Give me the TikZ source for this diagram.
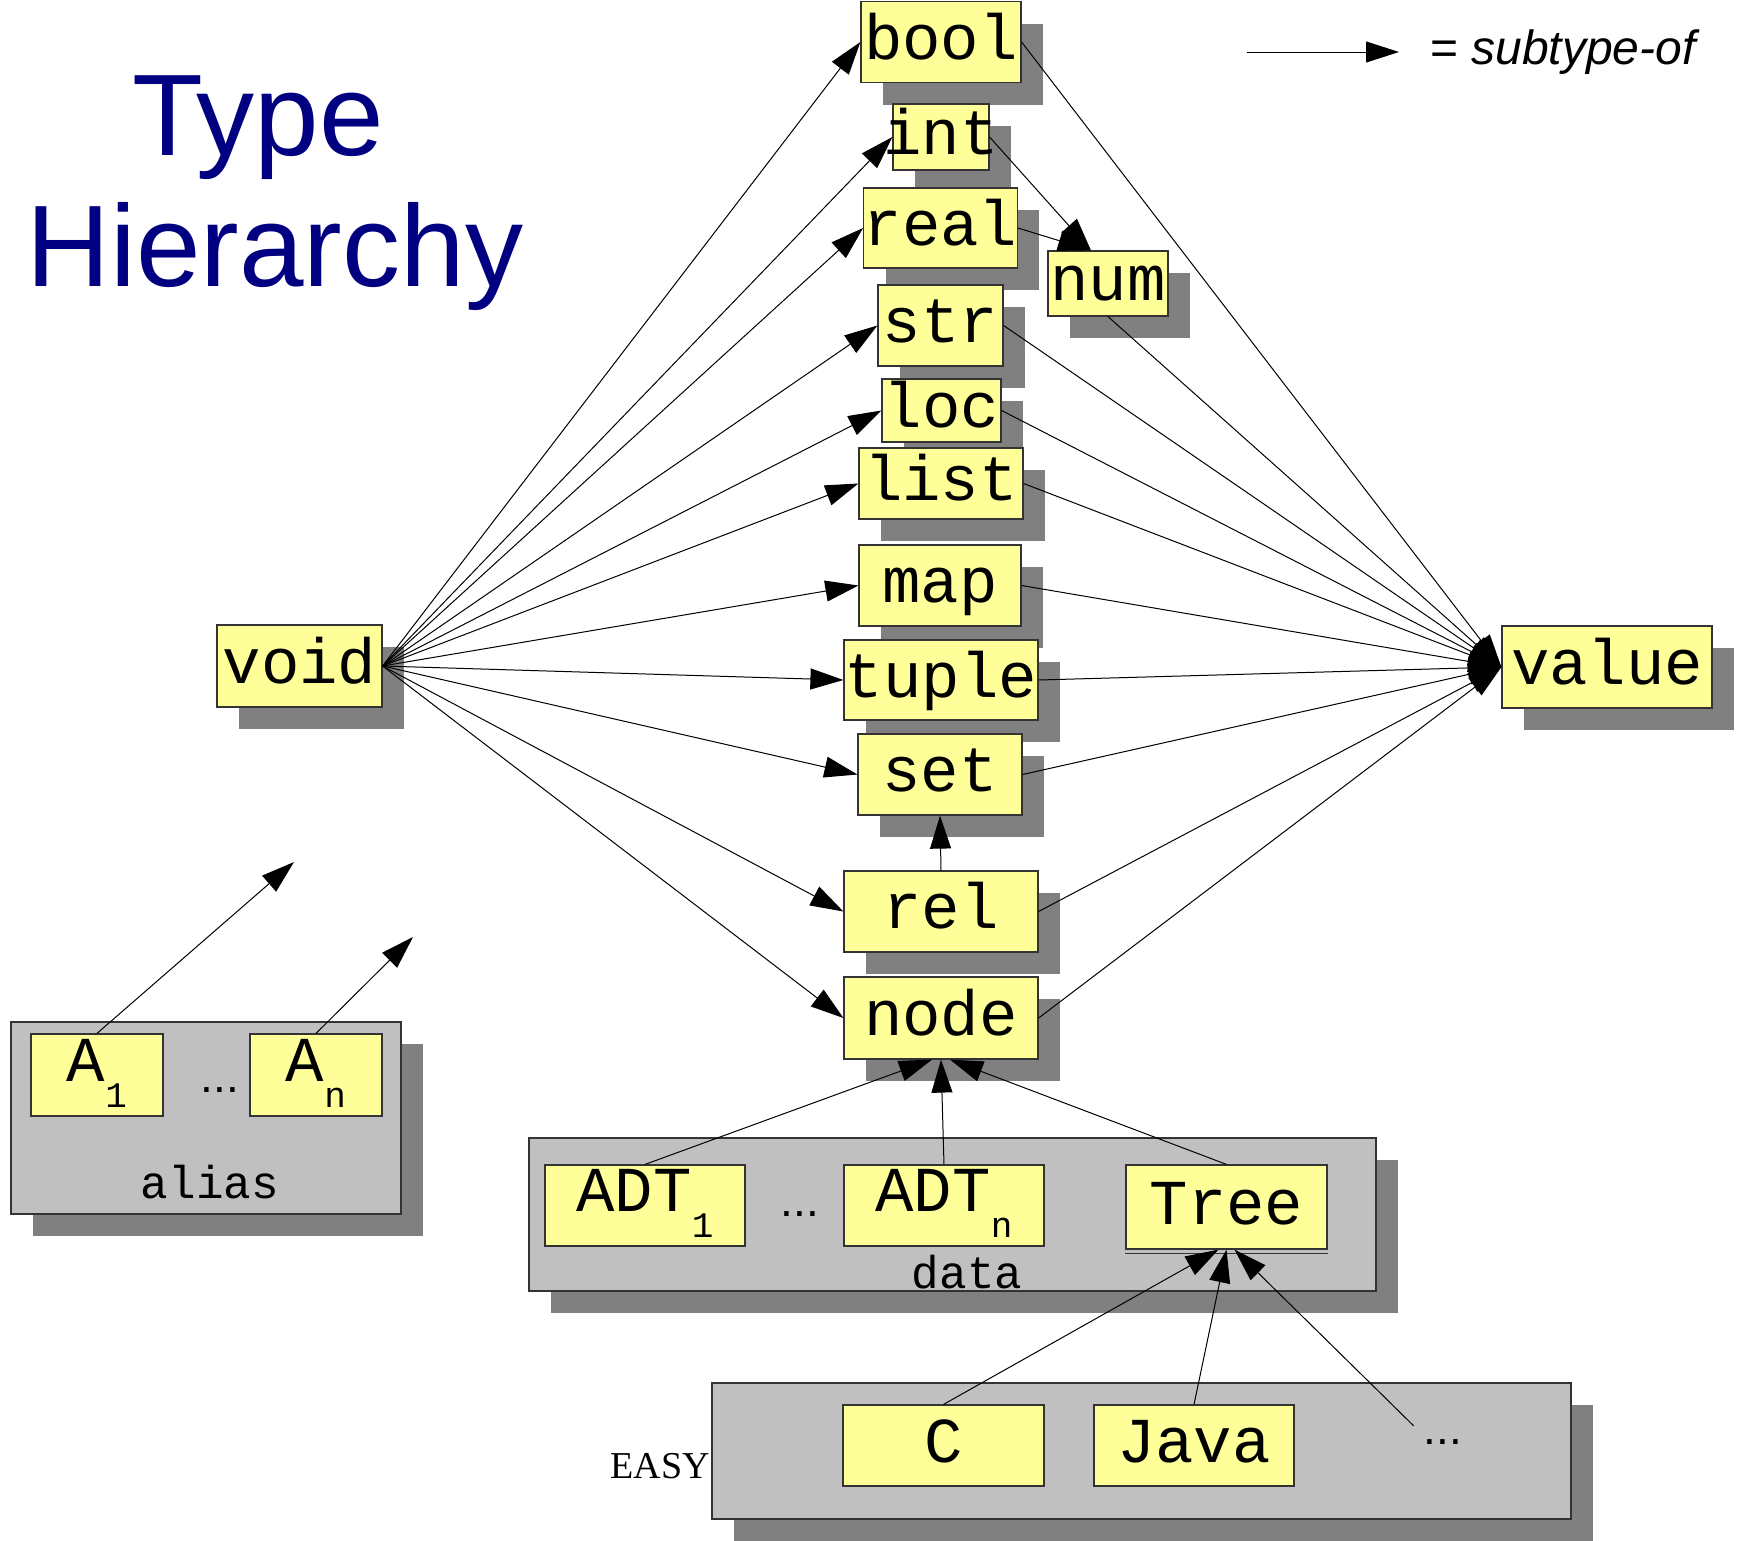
\documentclass[tikz,border=0pt]{standalone}
\usepackage{fontspec}
\usepackage{xcolor}
\usepackage{tikz}
\usetikzlibrary{arrows.meta,shadows}
\newfontfamily\monof{Liberation Mono}
\newfontfamily\sansf{Liberation Sans}
\newfontfamily\seriff{Liberation Serif}
\definecolor{boxf}{HTML}{FFFF99}
\definecolor{grpf}{HTML}{C0C0C0}
\definecolor{shc}{HTML}{808080}
\definecolor{boxc}{HTML}{333333}
\definecolor{navyc}{HTML}{000080}
\tikzset{
  pbox/.style={draw=boxc,line width=1.2pt,fill=boxf,inner sep=0pt,text height=40pt,text depth=6pt,
    font=\monof\fontsize{64}{64}\selectfont},
  tbox/.style={pbox,drop shadow={shadow xshift=22pt,shadow yshift=-22pt,fill=shc,opacity=1}},
  sbox/.style={pbox,text height=42pt,text depth=30pt},
  grp/.style={draw=boxc,line width=1.2pt,fill=grpf,inner sep=0pt,
    drop shadow={shadow xshift=22pt,shadow yshift=-22pt,fill=shc,opacity=1}},
  ar/.style={-{Triangle[length=33pt,width=21pt]},line width=1pt},
  sz/.style 2 args={minimum width=#1,minimum height=#2},
  ell/.style={font=\sansf\fontsize{46}{46}\selectfont,anchor=base,inner sep=0pt},
  lbl/.style={font=\monof\fontsize{46}{46}\selectfont,inner sep=0pt}
}
\newcommand{\lowr}[1]{\raisebox{-26pt}{\fontsize{36}{36}\selectfont #1}}

\begin{document}
\begin{tikzpicture}[x=1pt,y=-1pt]
\useasboundingbox (0,0) rectangle (1738,1540);
% title and legend
\node[font=\sansf\fontsize{116}{116}\selectfont,text=navyc,anchor=base,inner sep=0pt] (ttl1) at (258,155) {Type};
\node[font=\sansf\fontsize{116}{116}\selectfont,text=navyc,anchor=base,inner sep=0pt] (ttl2) at (275,286) {Hierarchy};
\coordinate (legA) at (1247,52);
\coordinate (legB) at (1399,52);
\draw[ar] (legA) -- (legB);
\node[font=\sansf\fontsize{48}{48}\selectfont,anchor=base west,inner sep=0pt] (leg) at (1430,64) {= \textit{subtype-of}};
% groups
\node[grp,sz={390pt}{192pt}] (aliasg) at (206,1118) {};
\node[grp,sz={847pt}{153pt}] (datag) at (952.5,1214.5) {};
\node[grp,sz={859pt}{136pt}] (easyg) at (1141.5,1451) {};
\node[lbl] (aliasl) at (210,1182) {alias};
\node[lbl] (datal) at (967,1272) {data};
\node[font=\seriff\fontsize{38}{38}\selectfont,anchor=east,inner sep=0pt] (easyl) at (710,1466) {EASY};
\node[sbox,sz={132pt}{82pt}] (a1) at (97,1075) {A\lowr{1}};
\node[sbox,sz={132pt}{82pt}] (an) at (316,1075) {A\lowr{n}};
\node[ell] (adots) at (220,1092) {...};
\node[sbox,sz={200pt}{81pt}] (adt1) at (645,1205.5) {ADT\lowr{1}};
\node[sbox,sz={200pt}{81pt}] (adtn) at (944,1205.5) {ADT\lowr{n}};
\node[ell] (ddots) at (800,1216) {...};
\node[pbox,sz={201pt}{84pt}] (tree) at (1226.5,1207) {Tree};
\draw[boxc,line width=1pt] ([yshift=-4pt]tree.south west) -- ([yshift=-4pt]tree.south east);
\node[pbox,sz={201pt}{81pt}] (c) at (943.5,1445.5) {C};
\node[pbox,sz={200pt}{81pt}] (java) at (1194,1445.5) {Java};
\node[ell,inner sep=10pt,text height=8pt,text depth=0pt] (more) at (1443,1444) {...};
% types
\node[tbox,sz={160pt}{81pt}] (bool) at (941,42) {bool};
\node[tbox,sz={96pt}{66pt}] (int) at (941,137) {\makebox[0pt]{int}};
\node[tbox,sz={153pt}{80pt}] (real) at (940.5,228) {real};
\node[tbox,sz={120pt}{65pt}] (num) at (1108,283.5) {num};
\node[tbox,sz={125pt}{81pt}] (str) at (940.5,325.5) {str};
\node[tbox,sz={119pt}{63pt}] (loc) at (941.5,410.5) {loc};
\node[tbox,sz={164pt}{71pt}] (list) at (941,483.5) {list};
\node[tbox,sz={162pt}{81pt}] (map) at (940,585.5) {map};
\node[tbox,sz={194pt}{80pt}] (tuple) at (941,680) {tuple};
\node[tbox,sz={164pt}{81pt}] (set) at (940,774.5) {set};
\node[tbox,sz={194pt}{81pt}] (rel) at (941,911.5) {rel};
\node[tbox,sz={194pt}{82pt}] (nd) at (941,1018) {node};
\node[tbox,sz={165pt}{82pt}] (void) at (299.5,666) {void};
\node[tbox,sz={210pt}{82pt}] (value) at (1607,667) {value};
% subtype arrows
\foreach \t in {bool,int,real,str,loc,list,map,tuple,set,rel,nd}
  \draw[ar] (void.east) -- (\t.west);
\coordinate (numin) at ([xshift=-17pt]num.north);
\draw[ar] (int.east) -- (numin);
\draw[ar] (real.east) -- (numin);
\foreach \s in {bool,str,loc,list,map,tuple,set,rel,nd}
  \draw[ar] (\s.east) -- (value.west);
\draw[ar] (num.south) -- (value.west);
\draw[ar] (rel.north) -- (set.south);
\draw[ar] (adt1.north) -- ([xshift=-9pt]nd.south);
\draw[ar] (adtn.north) -- (nd.south);
\draw[ar] (tree.north) -- ([xshift=9pt]nd.south);
\draw[ar] (c.north) -- ([xshift=-8pt]tree.south);
\draw[ar] (java.north) -- (tree.south);
\draw[ar] (more.north west) -- ([xshift=8pt]tree.south);
\coordinate (a1end) at (294,862);
\coordinate (anend) at (413,937);
\draw[ar] (a1.north) -- (a1end);
\draw[ar] (an.north) -- (anend);
\end{tikzpicture}
\end{document}
